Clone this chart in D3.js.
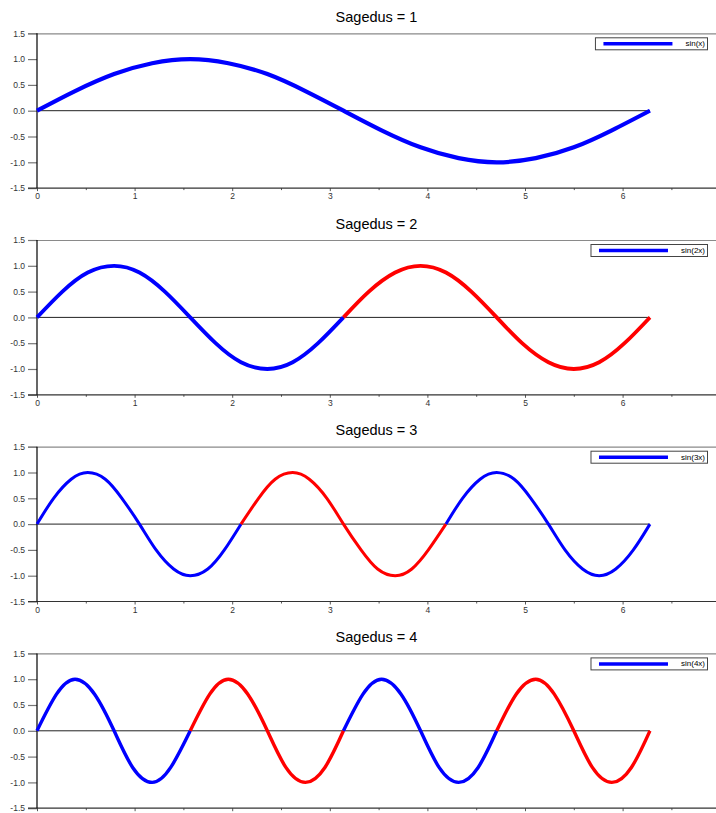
<!DOCTYPE html>
<html>
<head>
<meta charset="utf-8">
<script src="https://cdn.jsdelivr.net/npm/d3@7"></script>
<style>
  html, body { margin: 0; padding: 0; background: #fff; }
  svg { display: block; font-family: "Liberation Sans", Arial, sans-serif; }
</style>
</head>
<body>
<div id="chart"></div>
<script>
// ---------- data ----------
const titles = ["Sagedus = 1", "Sagedus = 2", "Sagedus = 3", "Sagedus = 4"];
const legendLabels = ["sin(x)", "sin(2x)", "sin(3x)", "sin(4x)"];
const xMajorTicks = [0, 1, 2, 3, 4, 5, 6];
const xMinorTicks = [0.5, 1.5, 2.5, 3.5, 4.5, 5.5, 6.5];
const yTicks = [-1.5, -1.0, -0.5, 0.0, 0.5, 1.0, 1.5];
// the last panel's tick labels fall below the picture's edge in the reference
const showXLabels = [true, true, true, false];

// panel 1 samples
const x1 = [0, 0.39, 0.79, 1.18, 1.57, 1.96, 2.36, 2.75, 3.14, 3.53, 3.93, 4.32, 4.71, 5.11, 5.50, 5.89, 6.28];
const y1 = [0, 0.38, 0.71, 0.92, 1, 0.92, 0.71, 0.38, 0, -0.38, -0.71, -0.92, -1, -0.92, -0.71, -0.38, 0];

// panel 2
const x2 = [0, 0.26, 0.52, 0.79, 1.05, 1.31, 1.57, 1.83, 2.09, 2.36, 2.62, 2.88, 3.14,
            3.40, 3.67, 3.93, 4.19, 4.45, 4.71, 4.97, 5.24, 5.50, 5.76, 6.02, 6.28];
const y2 = [0, 0.5, 0.87, 1, 0.87, 0.5, 0, -0.5, -0.87, -1, -0.87, -0.5, 0,
            0.5, 0.87, 1, 0.87, 0.5, 0, -0.5, -0.87, -1, -0.87, -0.5, 0];

// panel 3
const x3 = [0, 0.17, 0.35, 0.52, 0.70, 0.87, 1.05, 1.22, 1.40, 1.57, 1.75, 1.92, 2.09,
            2.27, 2.44, 2.62, 2.79, 2.97, 3.14, 3.32, 3.49, 3.67, 3.84, 4.01, 4.19,
            4.36, 4.54, 4.71, 4.89, 5.06, 5.24, 5.41, 5.59, 5.76, 5.93, 6.11, 6.28];
const y3 = [0, 0.5, 0.87, 1, 0.87, 0.5, 0, -0.5, -0.87, -1, -0.87, -0.5, 0,
            0.5, 0.87, 1, 0.87, 0.5, 0, -0.5, -0.87, -1, -0.87, -0.5, 0,
            0.5, 0.87, 1, 0.87, 0.5, 0, -0.5, -0.87, -1, -0.87, -0.5, 0];

// panel 4
const x4 = [0, 0.20, 0.39, 0.59, 0.79, 0.98, 1.18, 1.37, 1.57, 1.77, 1.96, 2.16, 2.36, 2.55, 2.75, 2.95,
            3.14, 3.34, 3.53, 3.73, 3.93, 4.12, 4.32, 4.52, 4.71, 4.91, 5.11, 5.30, 5.50, 5.69, 5.89, 6.09, 6.28];
const y4 = [0, 0.71, 1, 0.71, 0, -0.71, -1, -0.71, 0, 0.71, 1, 0.71, 0, -0.71, -1, -0.71,
            0, 0.71, 1, 0.71, 0, -0.71, -1, -0.71, 0, 0.71, 1, 0.71, 0, -0.71, -1, -0.71, 0];

// colour segments: break positions (x) and colours per segment
const breaks = [[], [3.14], [2.09, 4.19], [1.57, 3.14, 4.71]];
const segColors = [["#0000ff"], ["#0000ff", "#ff0000"], ["#0000ff", "#ff0000", "#0000ff"],
                   ["#0000ff", "#ff0000", "#0000ff", "#ff0000"]];
const xsAll = [x1, x2, x3, x4];
const ysAll = [y1, y2, y3, y4];

// ---------- layout ----------
const W = 716, H = 813;
const xMax = 6.957;
const left = 37;
const panelTop0 = 33.3, panelPitch = 206.7, panelH = 154.8;
const lineWidths = [4.2, 3.8, 3.0, 3.4];

const svg = d3.select("#chart").append("svg").attr("width", W).attr("height", H);
const x = d3.scaleLinear().domain([0, xMax]).range([left, W]);

titles.forEach((title, i) => {
  const top = panelTop0 + i * panelPitch;
  const g = svg.append("g").attr("transform", `translate(0,${top})`);
  const y = d3.scaleLinear().domain([-1.5, 1.5]).range([panelH, 0]);

  // title
  g.append("text")
    .attr("x", (left + W) / 2).attr("y", -11.5)
    .attr("text-anchor", "middle")
    .attr("font-size", 14.5).attr("fill", "#000")
    .text(title);

  // top frame line (grey)
  g.append("line")
    .attr("x1", left - 9).attr("x2", W)
    .attr("y1", Math.round(y(1.5)) + 0.5).attr("y2", Math.round(y(1.5)) + 0.5)
    .attr("stroke", "#8a8a8a").attr("stroke-width", 1.2);

  // y axis
  const yAxis = d3.axisLeft(y).tickValues(yTicks).tickSize(9).tickPadding(3)
    .tickFormat(d => d.toFixed(1));
  const ya = g.append("g").attr("transform", `translate(${left},0)`).call(yAxis);
  ya.select(".domain").remove();
  ya.selectAll(".tick line").attr("stroke", "#777").attr("stroke-width", 1.2);
  ya.selectAll(".tick text").attr("font-size", 8.5).attr("fill", "#333")
    .attr("font-family", "Liberation Sans, Arial, sans-serif");

  // x axis (major + minor)
  const xAxis = d3.axisBottom(x).tickValues(xMajorTicks).tickSize(3).tickPadding(2)
    .tickFormat(showXLabels[i] ? d3.format("d") : "");
  const xa = g.append("g").attr("transform", `translate(0,${panelH})`).call(xAxis);
  xa.select(".domain").remove();
  xa.selectAll(".tick line").attr("stroke", "#555");
  xa.selectAll(".tick text").attr("font-size", 8.5).attr("fill", "#333")
    .attr("font-family", "Liberation Sans, Arial, sans-serif");
  if (!showXLabels[i]) xa.selectAll(".tick text").remove();
  const xm = g.append("g").attr("transform", `translate(0,${panelH})`)
    .call(d3.axisBottom(x).tickValues(xMinorTicks).tickSize(2).tickFormat(""));
  xm.select(".domain").remove();
  xm.selectAll(".tick text").remove();
  xm.selectAll(".tick line").attr("stroke", "#555");

  // bottom axis line
  g.append("line")
    .attr("x1", left - 9).attr("x2", W)
    .attr("y1", panelH).attr("y2", panelH)
    .attr("stroke", "#333").attr("stroke-width", 1.2);

  // left axis line
  g.append("line")
    .attr("x1", left).attr("x2", left)
    .attr("y1", y(1.5)).attr("y2", panelH)
    .attr("stroke", "#000").attr("stroke-width", 1.2);

  // zero line (only across the data range)
  const xs = xsAll[i], ys = ysAll[i];
  g.append("line")
    .attr("x1", x(xs[0])).attr("x2", x(xs[xs.length - 1]))
    .attr("y1", y(0)).attr("y2", y(0))
    .attr("stroke", "#222").attr("stroke-width", 1);

  // curve segments
  const pts = xs.map((v, k) => ({ x: v, y: ys[k] }));
  const bounds = [-Infinity, ...breaks[i], Infinity];
  const line = d3.line().x(d => x(d.x)).y(d => y(d.y)).curve(d3.curveNatural);
  segColors[i].forEach((c, s) => {
    const seg = pts.filter(p => p.x >= bounds[s] - 1e-9 && p.x <= bounds[s + 1] + 1e-9);
    g.append("path").datum(seg)
      .attr("d", line)
      .attr("fill", "none")
      .attr("stroke", c)
      .attr("stroke-width", lineWidths[i])
      .attr("stroke-linejoin", "round");
  });

  // legend
  const lg = g.append("g");
  const boxRight = 707, boxTop = 4, boxH = 12;
  const txt = lg.append("text")
    .attr("font-size", 8).attr("fill", "#000")
    .attr("text-anchor", "end")
    .attr("x", boxRight - 2).attr("y", boxTop + boxH / 2 + 3)
    .text(legendLabels[i]);
  const tw = txt.node().getComputedTextLength();
  const lineEnd = boxRight - 2 - tw - 13;
  const lineStart = lineEnd - 69;
  const boxLeft = lineStart - 8.5;
  lg.insert("rect", "text")
    .attr("x", boxLeft + 0.5).attr("y", boxTop + 0.5)
    .attr("width", boxRight - boxLeft).attr("height", boxH)
    .attr("fill", "#fff").attr("stroke", "#444").attr("stroke-width", 1);
  lg.insert("line", "text")
    .attr("x1", lineStart).attr("x2", lineEnd)
    .attr("y1", boxTop + boxH / 2 + 0.5).attr("y2", boxTop + boxH / 2 + 0.5)
    .attr("stroke", "#0000ff").attr("stroke-width", 3.5);
});
</script>
</body>
</html>
